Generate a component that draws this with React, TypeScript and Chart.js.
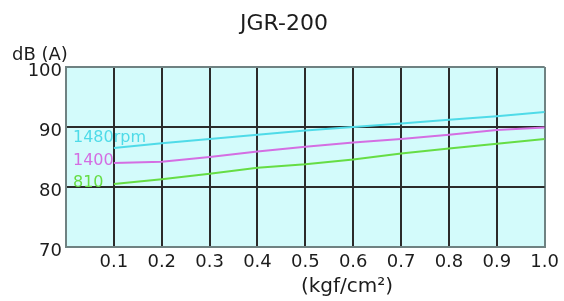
import React, { useEffect, useRef } from "react";
import { Chart, registerables } from "chart.js";

Chart.register(...registerables);

const chartTitle = "JGR-200";
const yAxisTitle = "dB (A)";
const xAxisTitle = "(kgf/cm²)";

const pressures = [0.1, 0.2, 0.3, 0.4, 0.5, 0.6, 0.7, 0.8, 0.9, 1.0];
const seriesLabels = ["1480rpm", "1400", "810"];
const rpm1480 = [86.5, 87.3, 88.0, 88.7, 89.4, 90.0, 90.6, 91.2, 91.8, 92.5];
const rpm1400 = [84.0, 84.2, 85.0, 85.9, 86.7, 87.4, 88.0, 88.7, 89.5, 89.9];
const rpm810 = [80.5, 81.3, 82.2, 83.2, 83.8, 84.6, 85.6, 86.4, 87.2, 88.0];

const xMin = 0;
const xMax = 1.0;
const xStep = 0.1;
const yMin = 70;
const yMax = 100;
const yStep = 10;

const FONT = "'DejaVu Sans', sans-serif";
const colors = ["#4fdbe8", "#d46ee2", "#66dd44"];
const labelLift = [-10, -2, -1];
const edgeColor = "#6f8282";
const gridColor = "#2b2b2b";
const textColor = "#1c1c1c";

const decorPlugin = {
  id: "decor",
  beforeDraw(chart: any) {
    const { ctx, chartArea } = chart;
    ctx.save();
    ctx.fillStyle = "#d3fbfb";
    ctx.fillRect(chartArea.left, chartArea.top, chartArea.right - chartArea.left, chartArea.bottom - chartArea.top);
    ctx.restore();
  },
  afterDraw(chart: any) {
    const { ctx, chartArea } = chart;
    ctx.save();
    ctx.fillStyle = textColor;
    ctx.textBaseline = "middle";
    ctx.font = `22px ${FONT}`;
    ctx.textAlign = "center";
    ctx.fillText(chartTitle, 284, 24);
    ctx.font = `18px ${FONT}`;
    ctx.textAlign = "left";
    ctx.fillText(yAxisTitle, 12, 55);
    ctx.font = `20px ${FONT}`;
    ctx.textAlign = "center";
    ctx.fillText(xAxisTitle, 347, 287);

    ctx.font = `16px ${FONT}`;
    ctx.textAlign = "left";
    chart.data.datasets.forEach((ds: any, i: number) => {
      const meta = chart.getDatasetMeta(i);
      const p = meta.data[0];
      if (!p) return;
      ctx.fillStyle = ds.borderColor;
      ctx.fillText(seriesLabels[i], chartArea.left + 7, p.y + labelLift[i]);
    });
    ctx.restore();
  },
};

export default function App() {
  const ref = useRef<HTMLCanvasElement>(null);
  useEffect(() => {
    if (!ref.current) return;
    const mk = (vals: number[]) => pressures.map((x, i) => ({ x, y: vals[i] }));
    const chart = new Chart(ref.current, {
      type: "line",
      data: {
        datasets: [rpm1480, rpm1400, rpm810].map((vals, i) => ({
          label: seriesLabels[i],
          data: mk(vals),
          borderColor: colors[i],
          backgroundColor: colors[i],
          borderWidth: 2,
          pointRadius: 0,
          tension: 0,
        })),
      },
      options: {
        responsive: false,
        animation: false,
        layout: { padding: { top: 67, right: 16, bottom: 0, left: 0 } },
        plugins: { legend: { display: false }, tooltip: { enabled: false }, title: { display: false } },
        scales: {
          x: {
            type: "linear",
            min: xMin,
            max: xMax,
            ticks: {
              stepSize: xStep,
              autoSkip: false,
              maxRotation: 0,
              padding: 5,
              color: textColor,
              font: { family: FONT, size: 18 },
              callback: (v: any) => (Math.abs(v) < 1e-9 ? "" : Number(v).toFixed(1)),
            },
            grid: {
              drawTicks: false,
              lineWidth: 2,
              color: (c: any) => {
                const v = c.tick ? c.tick.value : 0;
                return Math.abs(v - xMin) < 1e-6 || Math.abs(v - xMax) < 1e-6 ? edgeColor : gridColor;
              },
            },
            border: { color: edgeColor, width: 2 },
            afterFit: (s: any) => {
              s.height = 54;
            },
          },
          y: {
            min: yMin,
            max: yMax,
            ticks: {
              stepSize: yStep,
              padding: 4,
              labelOffset: 4,
              color: textColor,
              font: { family: FONT, size: 18 },
            },
            grid: {
              drawTicks: false,
              lineWidth: 2,
              color: (c: any) => {
                const v = c.tick ? c.tick.value : 0;
                return v === yMin || v === yMax ? edgeColor : gridColor;
              },
            },
            border: { color: edgeColor, width: 2 },
            afterFit: (s: any) => {
              s.width = 66;
            },
          },
        },
      },
      plugins: [decorPlugin],
    });
    return () => chart.destroy();
  }, []);
  return (
    <div style={{ position: "absolute", left: 0, top: 0, width: 564, height: 301, background: "#fff" }}>
      <canvas ref={ref} width={564} height={301} style={{ width: 564, height: 301 }} />
    </div>
  );
}
